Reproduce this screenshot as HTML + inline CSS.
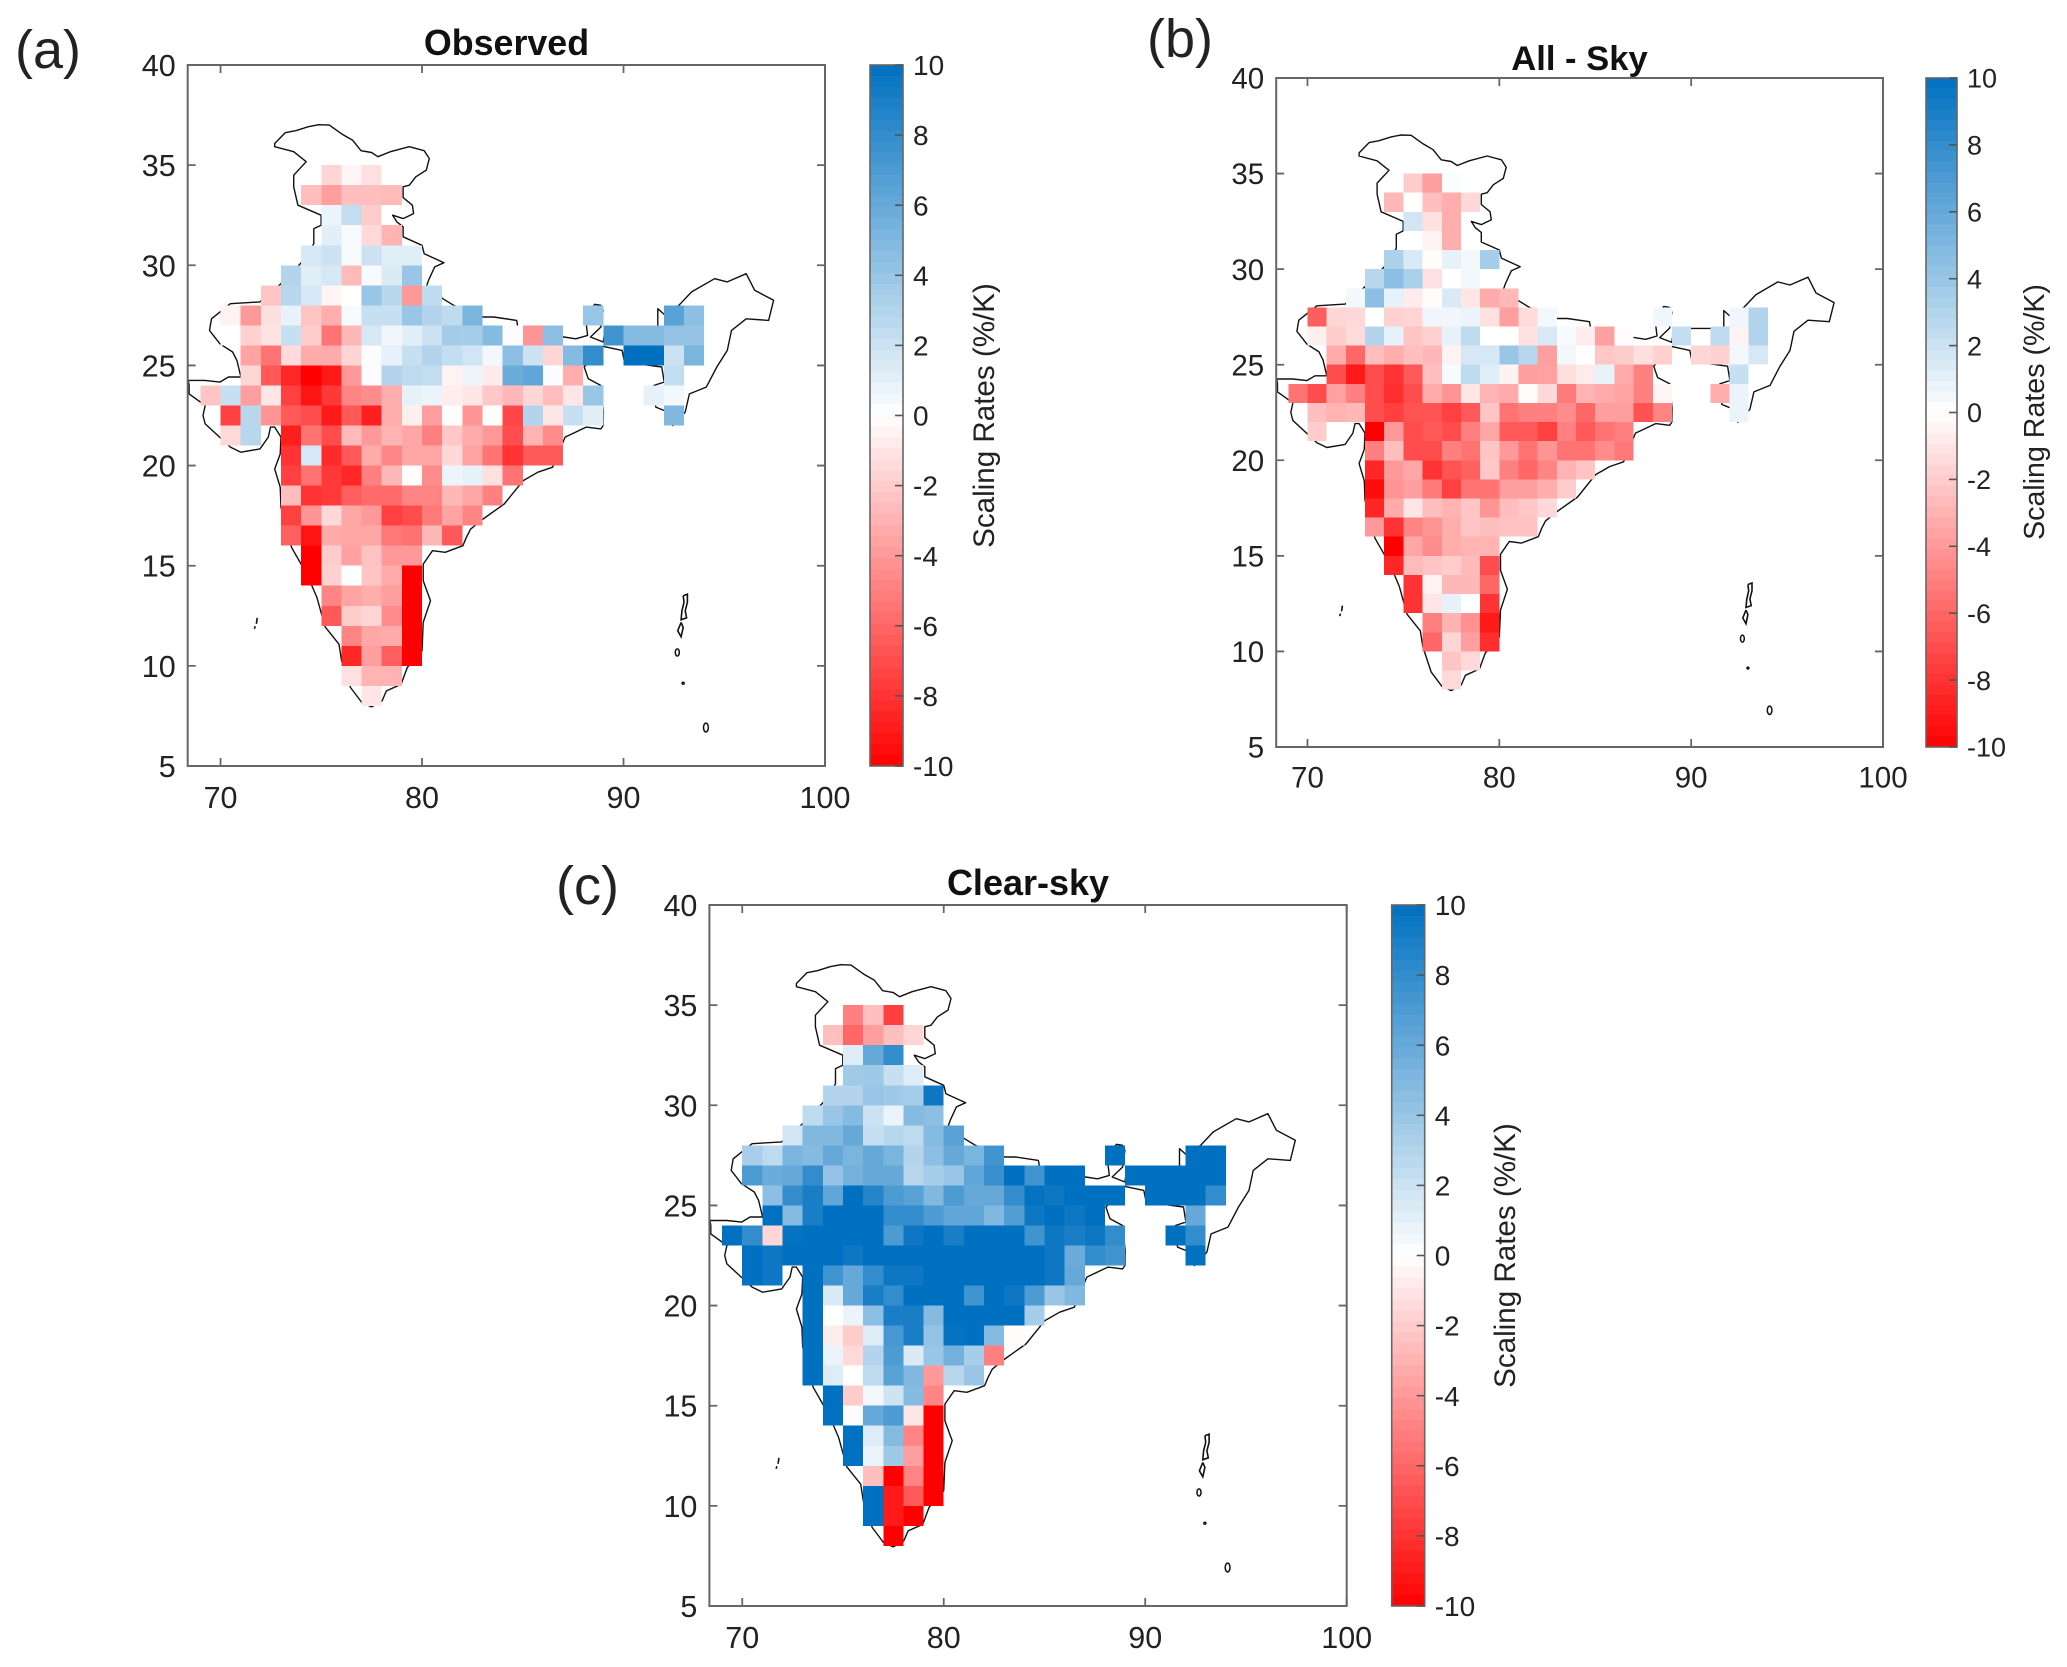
<!DOCTYPE html>
<html lang="en">
<head>
<meta charset="utf-8">
<title>Scaling rates over India</title>
<style>
html,body{margin:0;padding:0;background:#fff;}
svg{display:block;font-family:"Liberation Sans",Arial,sans-serif;}
</style>
</head>
<body>
<svg id="figure" xmlns="http://www.w3.org/2000/svg" width="2067" height="1667" viewBox="0 0 2067 1667">
  <rect width="2067" height="1667" fill="#fff"/>

  <g id="panel-a">
    <text x="15" y="68" font-size="54" fill="#222">(a)</text>
    <text x="506.5" y="55" font-size="35.8" font-weight="bold" text-anchor="middle" fill="#111">Observed</text>
    <text transform="translate(994,415.5) rotate(-90)" font-size="29.6" text-anchor="middle" fill="#222">Scaling Rates (%/K)</text>
  </g>
  <g id="panel-b">
    <text x="1147" y="57" font-size="54" fill="#222">(b)</text>
    <text x="1579.5" y="70" font-size="34.6" font-weight="bold" text-anchor="middle" fill="#111">All - Sky</text>
    <text transform="translate(2044,412) rotate(-90)" font-size="28.6" text-anchor="middle" fill="#222">Scaling Rates (%/K)</text>
  </g>
  <g id="panel-c">
    <text x="556" y="904" font-size="54" fill="#222">(c)</text>
    <text x="1028" y="895" font-size="36" font-weight="bold" text-anchor="middle" fill="#111">Clear-sky</text>
    <text transform="translate(1515,1255.5) rotate(-90)" font-size="29.6" text-anchor="middle" fill="#222">Scaling Rates (%/K)</text>
  </g>
</svg>

<script>
const _ = null;

// Grid categories: west edge of each column, north edge of each row (degrees)
const lons = [69,70,71,72,73,74,75,76,77,78,79,80,81,82,83,84,85,86,87,88,89,90,91,92,93];
const lats = [35,34,33,32,31,30,29,28,27,26,25,24,23,22,21,20,19,18,17,16,15,14,13,12,11,10,9];

// Tick labels
const xTicks = [70,80,90,100];
const yTicks = [5,10,15,20,25,30,35,40];
const colorTicks = [-10,-8,-6,-4,-2,0,2,4,6,8,10];

// Scaling rates (%/K), one row per lat, one column per lon
const observedValues = [
[_,_,_,_,_,_,-1.7,-.4,-1.2],
[_,_,_,_,_,-2.5,-3.8,-2.5,-2.5,-2.7],
[_,_,_,_,_,_,.8,2.4,-2],
[_,_,_,_,_,_,1.1,.3,-1.5,-3],
[_,_,_,_,_,1.6,2,.3,2,1.2,1.2],
[_,_,_,_,3,1.2,1.6,-2.7,.3,1.4,4],
[_,_,_,-2.3,2.8,1.6,-.4,0,4,2.8,-4,2.5],
[_,-.5,-4,-1.2,.9,-2.3,-3.2,.3,2.2,2.2,4,3,2.5,5.2,_,_,_,_,_,4,_,_,_,6.5,4.5],
[_,0,-1.8,-1.1,2.2,-2,-5.5,-2.8,1.6,.6,1.1,2,3.6,3.5,4.8,.2,-4.2,4.5,_,_,7.5,4.8,4.8,4.2,4.2],
[_,_,-3.6,-5.5,-1.4,-3.3,-3.3,-1.7,.2,1,2.2,3,2.3,1.8,.5,4.5,2,-1.6,4.8,8,_,10,10,2,5.2],
[_,_,-1.6,-6.5,-8.5,-10,-9,-4,.2,3,2.6,2.4,-.5,.7,-.8,5.8,6.2,.2,-3.2,_,_,_,_,2.4],
[-2.3,2.2,-3.8,-1,-7.5,-9.2,-7.8,-4.8,-4.5,-3.2,1,.8,-.7,-1,-2.2,-2.8,-1.6,-2.6,-1,4,_,_,1,.5],
[_,-7.5,2.8,-4.2,-6.5,-7,-9,-6.5,-8.8,-3.2,-.6,-3.8,-.1,-4.2,-.1,-7.2,3,-1,2.2,1.1,_,_,_,5],
[_,-1.5,2.8,_,-8.8,-5.5,-7,-2.7,-4,-3,-3.5,-5,-2.2,-3.3,-4,-7,-3,-4.5],
[_,_,_,_,-8,1.6,-8.3,-6.5,-3.3,-4.7,-3.5,-3.5,-1.5,-3.6,-5.5,-8,-6.5,-6.5],
[_,_,_,_,-7.5,-5.5,-7.8,-8.5,-5,-2.8,-.1,-4.5,.7,1,-1.2,-5.5],
[_,_,_,_,-2.6,-8,-7.8,-6.3,-5.8,-5.8,-4.8,-4.8,-2.8,-3.5,-5],
[_,_,_,_,-7.5,-4.2,-1.5,-3.5,-4,-7.5,-7,-5.2,-3.6,-4.8],
[_,_,_,_,-6.2,-9.2,-3.3,-3.5,-3.5,-5.3,-5.6,-2.8,-6.5],
[_,_,_,_,_,-10,-2,-3.7,-2.4,-4,-4],
[_,_,_,_,_,-10,-1.8,0,-2.3,-3.3,-10],
[_,_,_,_,_,_,-4.8,-3.6,-3.2,-3.8,-10],
[_,_,_,_,_,_,-6.5,-2,-1.7,-4.5,-10],
[_,_,_,_,_,_,_,-4.8,-3.5,-3.3,-10],
[_,_,_,_,_,_,_,-8.5,-3.8,-6.3,-10],
[_,_,_,_,_,_,_,-1.2,-3,-3],
[_,_,_,_,_,_,_,_,-1]
];

const allSkyValues = [
[_,_,_,_,_,_,-2,-3.8,.2,0],
[_,_,_,_,_,-2.8,0,-2.5,-3.2,-1.5],
[_,_,_,_,_,_,1.8,-1.2,-3.2],
[_,_,_,_,_,_,0,-.5,-3.2],
[_,_,_,_,_,3.2,1.5,-.1,1,.5,3.5],
[_,_,_,_,2.8,4.5,3.3,-1.2,0,.5],
[_,_,_,.5,4.5,1,-.8,-.1,1.5,-1,-3.3,-2.8],
[_,-6.3,-1.6,-1.5,0,-1.8,-1.7,.6,.6,.8,-1.2,-3.8,-1.4,.5,_,_,_,_,_,.6,_,_,_,.6,3],
[_,-.6,-2,-1.4,3,1,-2.3,-1.8,1,2.6,0,0,-1.2,1.5,.3,-.7,-3.7,-.1,_,_,2.3,_,2.6,-.5,3],
[_,_,-3.3,-6,-2.6,-3.2,-2.5,-2.8,-.5,1.6,1.6,4,2.8,-3.8,.5,0,-2.2,-2,-1.2,-1.8,_,-1.6,-1.8,.5,1.6],
[_,_,-7,-9,-7,-8,-6.5,-2.5,.3,2.5,1.2,-.5,-3.8,-3.7,-1.3,-.8,.9,-3.3,-5,_,_,_,_,2.2],
[-5.5,-7,-3.7,-5,-7,-8.2,-7,-3.3,-4.2,-1,-3,-3.3,-.1,-1.5,-5.2,-3,-3.3,-3.6,-5,-.4,_,_,-3.2,.8],
[_,-2.5,-3,-2.8,-7,-7.5,-6.8,-6.8,-7.5,-6.5,-2.3,-5.5,-5,-5,-4.5,-6,-3.8,-3.8,-6.8,-4.8,_,_,_,.8],
[_,-2,0,_,-10,-4,-7,-6.5,-7,-5,-3.5,-6.5,-6.5,-7.5,-5,-6.5,-5.5,-5],
[_,_,_,_,-5,-2.5,-7,-7,-5,-5.5,-2.3,-4,-5.5,-4.2,-5.5,-5.5,-4.5,-5.3],
[_,_,_,_,-8.5,-4,-3.5,-8,-6.8,-6.2,-2.2,-5,-6,-4.8,-3,-2.3],
[_,_,_,_,-9.5,-4.2,-3.8,-5.2,-7.5,-5.5,-5.5,-3.8,-3.8,-3.2,-2],
[_,_,_,_,-8.5,-3.3,-1,-2.6,-3,-2.3,-4.2,-2.6,-2.2,-1.5],
[_,_,_,_,-4,-8,-4.8,-4.2,-3.2,-2.3,-2.5,-2.4,-2.4],
[_,_,_,_,_,-10,-3.5,-4.5,-3.2,-3,-3],
[_,_,_,_,_,-8.5,-2.7,-2.3,-2,-2.7,-7],
[_,_,_,_,_,_,-8,-.5,-2.8,-2.8,-6],
[_,_,_,_,_,_,-8,-1,1,0,-8],
[_,_,_,_,_,_,_,-5,-3,-4.3,-9],
[_,_,_,_,_,_,_,-6,-1.6,-3.8,-8.2],
[_,_,_,_,_,_,_,_,-2.3,-1.5],
[_,_,_,_,_,_,_,_,-1.5]
];

const clearSkyValues = [
[_,_,_,_,_,_,-5,-2.5,-7.5],
[_,_,_,_,_,-2.5,-6,-3.8,-2.5,-1.7],
[_,_,_,_,_,_,1.3,6,8],
[_,_,_,_,_,_,3.7,3.8,2.2,1.3],
[_,_,_,_,_,3,3,4,3.8,3.5,9.5],
[_,_,_,_,2.6,4,4.8,2,.8,4.8,4.5],
[_,_,_,1.8,5,5,6,2.2,2.8,2.6,4.8,6.5],
[_,3.4,2.6,5.2,4.8,6,5.2,6,5.2,3,4.5,6,5.2,7.5,_,_,_,_,_,10,_,_,_,10,10],
[_,7,5.8,6,8,4.2,5.5,6,6,2.8,3.5,4,6.2,7.8,10,7.5,10,10,_,_,10,10,10,10,10],
[_,_,4.5,8,9,6.2,10,8.5,7,6.5,5,7,6,6,8,9.8,9.5,10,10,10,_,10,10,10,8],
[_,_,10,4.8,9,10,10,10,8,8,7,6.2,6.2,5,6.8,9.5,10,9.5,10,_,_,_,_,6],
[10,8,-1.6,9.8,10,10,10,10,7,9.5,10,9,10,10,10,7.5,9.5,9,9.5,8,_,_,10,8],
[_,10,9.5,10,10,10,9.5,10,10,10,10,10,10,10,10,10,9.5,5.8,8,7.5,_,_,_,10],
[_,10,9.5,_,10,7.5,6,8,9.5,9.5,10,10,10,10,10,10,9.5,6],
[_,_,_,_,10,1.5,6,9,8,10,10,10,7.5,10,9.5,7,4,5],
[_,_,_,_,10,0,.8,4.5,9,9,4.8,10,10,10,10,3.5],
[_,_,_,_,10,-.7,-2,1.3,7.2,9,4.2,9.8,10,4.8,-.1],
[_,_,_,_,10,.8,-1.5,3,7,1.4,4,5.5,3.5,-5],
[_,_,_,_,10,1.3,0,2.6,6.5,5,-4,2.8,4],
[_,_,_,_,_,10,-2,.5,1.9,4.8,-4.8],
[_,_,_,_,_,10,.2,6,7,-1,-10],
[_,_,_,_,_,_,10,1.3,4.8,-4.8,-10],
[_,_,_,_,_,_,10,.8,3.8,-3.8,-10],
[_,_,_,_,_,_,_,-2.5,-10,-4.8,-10],
[_,_,_,_,_,_,_,10,-9,-6.5,-10],
[_,_,_,_,_,_,_,10,-9,-10],
[_,_,_,_,_,_,_,_,-10]
];

// Coastline / border, geographic [lon, lat]
const indiaOutline = [
[72.69,36.08],[73.21,36.62],[73.73,36.72],[74.36,36.92],[74.88,37.02],[75.4,37],[76.03,36.55],[76.55,36.25],[76.97,35.72],[77.49,35.63],[77.81,35.42],[78.43,35.67],[79.37,35.92],[80.11,35.72],[80.36,35.33],[80.21,34.75],[79.69,34.42],[79.37,34],[79.06,33.92],[79.06,33.38],[79.52,33],[79.58,32.58],[79.06,32.33],[78.54,32.5],[78.75,32.17],[79.06,31.92],[79.06,31.42],[80,31],[80.11,30.58],[81.09,30.13],[80.63,29.92],[80.32,29.25],[80.21,28.92],[81.03,28.33],[81.57,28],[83.03,27.42],[83.55,27.42],[84.7,27.25],[84.75,26.95],[85.96,26.58],[87.04,26.42],[87.63,26.33],[88.22,26.5],[88.15,27.08],[88.36,27.75],[88.57,28.05],[88.88,28],[88.99,27.75],[88.88,26.92],[88.36,26.42],[88.99,26.17],[89.1,26.9],[91.7,26.9],[91.7,27.83],[92.02,27.55],[92.75,28],[93.38,28.67],[94.52,29.33],[95.15,29.17],[96.09,29.58],[96.51,28.75],[97.45,28.25],[97.2,27.25],[96.09,27.33],[95.36,26.75],[95.15,25.75],[94.63,24.92],[94.11,23.92],[93.27,23.58],[93.06,22.67],[92.44,22],[92.02,22.75],[91.6,22.92],[91.5,24],[92.02,24.17],[91.9,24.92],[90.05,25.17],[89.93,25.75],[89,25.95],[88.4,25.3],[88.05,24.92],[88.25,24.33],[88.88,24],[89,22.75],[88.99,22],[88.88,21.83],[88.15,21.92],[87.1,21.42],[86.48,19.92],[85.75,19.67],[85.02,19.25],[84.08,18.08],[83.03,17.33],[82.41,16.83],[82.2,16.42],[82.03,16],[81.15,15.67],[80.52,15.75],[80.06,15.08],[80.06,14.25],[80.42,13.25],[80.06,12.17],[80,10.75],[79.27,9.92],[78.96,9.08],[78.23,8.75],[78.02,8.25],[77.49,7.95],[77.01,8.17],[76.45,8.92],[76.01,10.25],[75.88,11.08],[75.19,11.95],[74.78,13.42],[74.5,14.08],[74,15.08],[73.52,15.92],[73,17.92],[72.96,18.92],[72.69,19.83],[72.96,20.58],[73,21.42],[72.69,21.92],[72.48,21.92],[72.37,21.42],[71.96,20.83],[71.01,20.67],[70.49,20.92],[69.24,22.08],[69.13,22.5],[69.24,23],[68.44,23.58],[68.44,24],[68.4,24.25],[69.24,24.25],[69.97,24.17],[70.39,24.42],[71.01,24.42],[70.81,25.25],[70.6,25.67],[69.97,26.08],[69.45,26.75],[69.55,27.33],[70.49,28.08],[71.96,28.17],[73,29.08],[74.05,30.17],[74.63,31.08],[74.63,31.83],[74.99,32],[74.99,32.5],[73.84,33],[73.63,33.92],[73.63,34.5],[74.25,35.17],[73.63,35.67],[72.69,35.92],[72.69,36.08]
];
const andamanNorth = [[92.96,13.5],[93.17,13.58],[93.17,13.17],[93.06,12.75],[93.13,12.4],[92.86,12.3],[92.9,12.75],[93,13.17],[92.96,13.5]];
const andamanSouth = [[92.86,12.17],[92.69,11.75],[92.86,11.45],[92.96,11.92],[92.86,12.17]];
const lakshadweep = [[71.82,12.4],[71.78,12.1]];
const lakshadweepSouth = [[71.72,11.98],[71.68,11.85]];
const smallIslands = [[92.67,10.67,.1,.18],[92.96,9.13,.05,.05],[94.09,6.92,.12,.22]];

const panels = [
  {id:'panel-a', values:observedValues, left:187.7, right:825, top:65, bottom:766, cbLeft:870, cbRight:903, tickFont:30.5, cbFont:28},
  {id:'panel-b', values:allSkyValues, left:1276.2, right:1883, top:78, bottom:747, cbLeft:1926, cbRight:1957, tickFont:29.5, cbFont:27},
  {id:'panel-c', values:clearSkyValues, left:709.4, right:1346.7, top:905, bottom:1606, cbLeft:1391.7, cbRight:1424.7, tickFont:30.5, cbFont:28}
];

const SVGNS = 'http://www.w3.org/2000/svg';
const LON_MIN = 68.37, LON_MAX = 100, LAT_MIN = 5, LAT_MAX = 40;

function make(tag, attrs, parent) {
  const el = document.createElementNS(SVGNS, tag);
  for (const k in attrs) el.setAttribute(k, attrs[k]);
  parent.appendChild(el);
  return el;
}
function colorFor(v) {
  const t = Math.min(1, Math.abs(v) / 10);
  if (v < 0) {
    const c = Math.round(255 * (1 - t));
    return 'rgb(255,' + c + ',' + c + ')';
  }
  return 'rgb(' + Math.round(255 * (1 - t)) + ',' + Math.round(255 - 143 * t) + ',' + Math.round(255 - 63 * t) + ')';
}
function pathFrom(points, x, y, close) {
  return points.map((p, i) => (i ? 'L' : 'M') + x(p[0]).toFixed(1) + ' ' + y(p[1]).toFixed(1)).join(' ') + (close ? ' Z' : '');
}

panels.forEach(function (p) {
  const g = document.getElementById(p.id);
  const x = lon => p.left + (lon - LON_MIN) / (LON_MAX - LON_MIN) * (p.right - p.left);
  const y = lat => p.bottom - (lat - LAT_MIN) / (LAT_MAX - LAT_MIN) * (p.bottom - p.top);
  const cbY = v => p.bottom - (v + 10) / 20 * (p.bottom - p.top);

  // Map outlines (beneath the grid cells)
  const outline = make('path', {d: pathFrom(indiaOutline, x, y, true), fill: 'none', stroke: '#111', 'stroke-width': 1.4, 'stroke-linejoin': 'round'}, g);
  
  
  [andamanNorth, andamanSouth, lakshadweep, lakshadweepSouth].forEach(function (pts) {
    const isl = make('path', {d: pathFrom(pts, x, y, false), fill: 'none', stroke: '#111', 'stroke-width': 1.6}, g);
    
    
  });
  smallIslands.forEach(function (s) {
    const isl = make('ellipse', {cx: x(s[0]), cy: y(s[1]), rx: s[2] * (p.right - p.left) / (LON_MAX - LON_MIN), ry: s[3] * (p.bottom - p.top) / (LAT_MAX - LAT_MIN), fill: 'none', stroke: '#111', 'stroke-width': 1.5}, g);
    
    
  });

  // Heatmap cells
  p.values.forEach(function (row, r) {
    row.forEach(function (v, c) {
      if (v === null || v === undefined) return;
      const cell = make('rect', {x: x(lons[c]), y: y(lats[r]), width: x(lons[c] + 1) - x(lons[c]), height: y(lats[r] - 1) - y(lats[r]), fill: colorFor(v), 'shape-rendering': 'crispEdges'}, g);
      
      
    });
  });

  // Axes box
  const box = make('rect', {x: p.left, y: p.top, width: p.right - p.left, height: p.bottom - p.top, fill: 'none', stroke: '#666', 'stroke-width': 2}, g);
  
  

  // X ticks
  xTicks.forEach(function (t) {
    const d = 'M' + x(t) + ' ' + p.bottom + 'v-8M' + x(t) + ' ' + p.top + 'v8';
    const tick = make('path', {d: d, stroke: '#666', 'stroke-width': 1.8, fill: 'none'}, g);
    
    
    const label = make('text', {x: x(t), y: p.bottom + p.tickFont * 1.38, 'font-size': p.tickFont, 'text-anchor': 'middle', fill: '#222'}, g);
    label.textContent = t;
    
    
  });

  // Y ticks
  yTicks.forEach(function (t) {
    const d = 'M' + p.left + ' ' + y(t) + 'h8M' + p.right + ' ' + y(t) + 'h-8';
    const tick = make('path', {d: d, stroke: '#666', 'stroke-width': 1.8, fill: 'none'}, g);
    
    
    const label = make('text', {x: p.left - 12, y: y(t) + p.tickFont * 0.36, 'font-size': p.tickFont, 'text-anchor': 'end', fill: '#222'}, g);
    label.textContent = t;
    
    
  });

  // Colorbar
  const steps = 64;
  for (let i = 0; i < steps; i++) {
    const lo = -10 + 20 * i / steps, hi = -10 + 20 * (i + 1) / steps;
    const step = make('rect', {x: p.cbLeft, y: cbY(hi), width: p.cbRight - p.cbLeft, height: cbY(lo) - cbY(hi), fill: colorFor((lo + hi) / 2), 'shape-rendering': 'crispEdges'}, g);
    
    
  }
  const cbBox = make('rect', {x: p.cbLeft, y: p.top, width: p.cbRight - p.cbLeft, height: p.bottom - p.top, fill: 'none', stroke: '#666', 'stroke-width': 1.6}, g);
  
  
  colorTicks.forEach(function (t) {
    const tick = make('path', {d: 'M' + p.cbRight + ' ' + cbY(t) + 'h-8', stroke: '#555', 'stroke-width': 1.6, fill: 'none'}, g);
    
    
    const label = make('text', {x: p.cbRight + 10, y: cbY(t) + p.cbFont * 0.36, 'font-size': p.cbFont, fill: '#222'}, g);
    label.textContent = t;
    
    
  });
});
</script>
</body>
</html>
